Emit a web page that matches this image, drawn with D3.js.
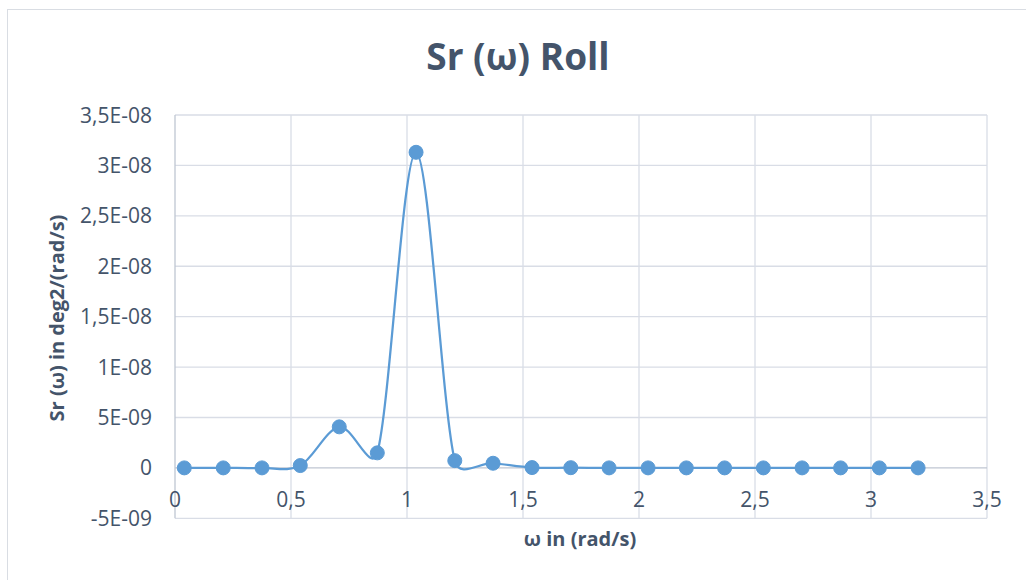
<!DOCTYPE html>
<html>
<head>
<meta charset="utf-8">
<script src="https://cdn.jsdelivr.net/npm/d3@7"></script>
<style>
  html, body { margin: 0; padding: 0; background: #fff; }
  svg { display: block; }
  text { font-family: "Open Sans", sans-serif; fill: #44546A; }
</style>
</head>
<body>
<svg id="chart" width="1026" height="580"></svg>
<script>
// ---- data ----
const omega = [0.040, 0.208, 0.375, 0.540, 0.708, 0.872, 1.039, 1.206, 1.371, 1.539,
               1.706, 1.871, 2.039, 2.204, 2.369, 2.536, 2.703, 2.869, 3.036, 3.203];
const sr    = [0, 0, 0, 0.23e-9, 4.07e-9, 1.49e-9, 3.13e-8, 0.72e-9, 0.46e-9, 0.03e-9,
               0.02e-9, 0, 0, 0, 0, 0, 0, 0, 0, 0];
const xTicks = [0, 0.5, 1, 1.5, 2, 2.5, 3, 3.5];
const yTicks = [-5e-9, 0, 5e-9, 1e-8, 1.5e-8, 2e-8, 2.5e-8, 3e-8, 3.5e-8];
const yTickLabels = ["-5E-09", "0", "5E-09", "1E-08", "1,5E-08", "2E-08", "2,5E-08", "3E-08", "3,5E-08"];
const xTickLabels = ["0", "0,5", "1", "1,5", "2", "2,5", "3", "3,5"];
const title = "Sr (\u03c9) Roll";
const xTitle = "\u03c9 in (rad/s)";
const yTitle = "Sr (\u03c9) in deg2/(rad/s)";

const svg = d3.select("#chart");
const L = 175, R = 987, T = 115, B = 518.3;

const x = d3.scaleLinear().domain([0, 3.5]).range([L, R]);
const y = d3.scaleLinear().domain([-5e-9, 3.5e-8]).range([B, T]);

// outer chart border
svg.append("rect").attr("x", 7.5).attr("y", 9.5).attr("width", 1030).attr("height", 600)
  .attr("fill", "#fff").attr("stroke", "#D9DDE3").attr("stroke-width", 1);

// horizontal gridlines
svg.append("g").selectAll("line").data(yTicks.filter(d => d !== 0)).join("line")
  .attr("x1", L).attr("x2", R)
  .attr("y1", d => y(d)).attr("y2", d => y(d))
  .attr("stroke", "#D9DDE6").attr("stroke-width", 1.3);

// vertical gridlines
svg.append("g").selectAll("line").data(xTicks.filter(d => d !== 0)).join("line")
  .attr("y1", T).attr("y2", B)
  .attr("x1", d => x(d)).attr("x2", d => x(d))
  .attr("stroke", "#D9DDE6").attr("stroke-width", 1.3);

// axis lines
svg.append("line").attr("x1", x(0)).attr("x2", x(0)).attr("y1", T).attr("y2", B)
  .attr("stroke", "#BFC6D2").attr("stroke-width", 1.3);
svg.append("line").attr("x1", L).attr("x2", R).attr("y1", y(0)).attr("y2", y(0))
  .attr("stroke", "#BFC6D2").attr("stroke-width", 1.3);

// y tick labels
svg.append("g").selectAll("text").data(yTicks).join("text")
  .attr("x", 152).attr("y", d => y(d))
  .attr("dy", "0.36em")
  .attr("text-anchor", "end")
  .style("font-size", "21px")
  .text((d, i) => yTickLabels[i]);

// x tick labels
svg.append("g").selectAll("text").data(xTicks).join("text")
  .attr("x", d => x(d)).attr("y", y(0) + 39.5)
  .attr("text-anchor", "middle")
  .style("font-size", "21px")
  .text((d, i) => xTickLabels[i]);

// title
svg.append("text").attr("x", 518).attr("y", 70)
  .attr("text-anchor", "middle")
  .style("font-size", "37px").style("font-weight", "bold")
  .text(title);

// axis titles
svg.append("text").attr("x", 580).attr("y", 546)
  .attr("text-anchor", "middle")
  .style("font-size", "20px").style("font-weight", "bold")
  .text(xTitle);

svg.append("text")
  .attr("transform", `translate(64,318) rotate(-90)`)
  .attr("text-anchor", "middle")
  .style("font-size", "20px").style("font-weight", "bold")
  .text(yTitle);

// series: Excel-style smoothed line (Bezier, control arm limited to half the segment)
const pts = omega.map((w, i) => [w, sr[i]]);
const px = pts.map(d => [x(d[0]), y(d[1])]);
function smoothPath(p) {
  const path = d3.path();
  const n = p.length;
  const dist = (a, b) => Math.hypot(b[0] - a[0], b[1] - a[1]);
  path.moveTo(p[0][0], p[0][1]);
  for (let i = 0; i < n - 1; i++) {
    const p0 = p[Math.max(i - 1, 0)], p1 = p[i], p2 = p[i + 1], p3 = p[Math.min(i + 2, n - 1)];
    const d12 = dist(p1, p2), d02 = dist(p0, p2), d13 = dist(p1, p3);
    const a1 = d02 > 0 ? Math.min(1 / 6, d12 / 2 / d02) : 0;
    const a2 = d13 > 0 ? Math.min(1 / 6, d12 / 2 / d13) : 0;
    const c1 = [p1[0] + a1 * (p2[0] - p0[0]), p1[1] + a1 * (p2[1] - p0[1])];
    const c2 = [p2[0] - a2 * (p3[0] - p1[0]), p2[1] - a2 * (p3[1] - p1[1])];
    path.bezierCurveTo(c1[0], c1[1], c2[0], c2[1], p2[0], p2[1]);
  }
  return path.toString();
}
svg.append("path").attr("d", smoothPath(px))
  .attr("fill", "none").attr("stroke", "#5B9BD5").attr("stroke-width", 2.25);

svg.append("g").selectAll("circle").data(pts).join("circle")
  .attr("cx", d => x(d[0])).attr("cy", d => y(d[1])).attr("r", 7)
  .attr("fill", "#5B9BD5").attr("stroke", "#5B9BD5").attr("stroke-width", 1);
</script>
</body>
</html>
